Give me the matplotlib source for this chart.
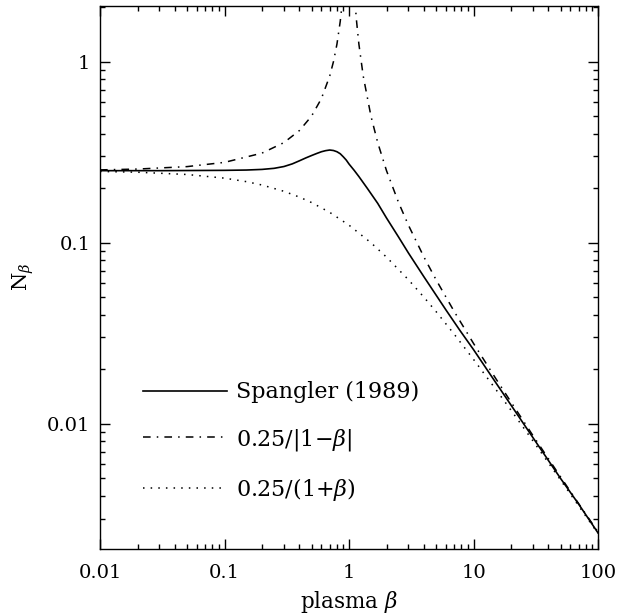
"""
N_beta vs plasma beta: Spangler (1989) curve and the two simple limits.
"""

import matplotlib
matplotlib.use("Agg")
import matplotlib.pyplot as plt
from matplotlib.ticker import LogLocator, NullFormatter, FixedLocator, FixedFormatter

plt.rcParams["font.family"] = ["DejaVu Serif"]
plt.rcParams["mathtext.fontset"] = "dejavuserif"

# Spangler (1989)
beta_spangler = [0.01, 0.03, 0.1, 0.15, 0.2, 0.25, 0.3, 0.35, 0.4, 0.45, 0.5,
                 0.55, 0.6, 0.65, 0.7, 0.75, 0.8, 0.85, 0.9, 0.95, 1.0, 1.1,
                 1.2, 1.4, 1.7, 2.0, 2.34, 2.5, 3.0, 4.0, 6.0, 7.8, 10, 15,
                 20, 30, 50, 70, 100]
n_spangler = [0.250, 0.250, 0.251, 0.252, 0.254, 0.2575, 0.2635, 0.2725,
              0.2835, 0.294, 0.303, 0.311, 0.318, 0.3225, 0.325, 0.323, 0.318,
              0.310, 0.298, 0.286, 0.272, 0.251, 0.232, 0.200, 0.165, 0.137,
              0.1155, 0.1075, 0.0878, 0.0648, 0.0426, 0.0327, 0.0257, 0.0170,
              0.0127, 0.0084, 0.0050, 0.0036, 0.0025]

# 0.25/|1-beta|
beta_abs = [0.01, 0.02, 0.05, 0.1, 0.2, 0.3, 0.4, 0.5, 0.6, 0.7, 0.75, 0.8,
            0.85, 0.88, 0.9, 0.95, 1.05, 1.1, 1.12, 1.15, 1.2, 1.3, 1.5, 1.7,
            2.0, 2.5, 3.0, 4.0, 5.0, 7.0, 10, 15, 20, 30, 50, 70, 100]
n_abs = [0.2525, 0.2551, 0.2632, 0.2778, 0.3125, 0.3571, 0.4167, 0.5, 0.625,
         0.8333, 1.0, 1.25, 1.667, 2.083, 2.5, 5.0, 5.0, 2.5, 2.083, 1.667,
         1.25, 0.8333, 0.5, 0.3571, 0.25, 0.1667, 0.125, 0.0833, 0.0625,
         0.0417, 0.0278, 0.0179, 0.0132, 0.00862, 0.0051, 0.00362, 0.00253]

# 0.25/(1+beta)
beta_plus = [0.01, 0.02, 0.05, 0.1, 0.15, 0.2, 0.3, 0.4, 0.5, 0.7, 1.0, 1.5,
             2.0, 3.0, 4.0, 5.0, 7.0, 10, 15, 20, 30, 50, 100]
n_plus = [0.2475, 0.2451, 0.2381, 0.2273, 0.2174, 0.2083, 0.1923, 0.1786,
          0.1667, 0.1471, 0.125, 0.1, 0.0833, 0.0625, 0.05, 0.0417, 0.03125,
          0.0227, 0.0156, 0.0119, 0.00806, 0.0049, 0.00248]

labels = ["Spangler (1989)", r"0.25/|1$-\beta$|", r"0.25/(1+$\beta$)"]

FS = 14

fig = plt.figure(figsize=(6.19, 6.14), dpi=100)
ax = fig.add_axes([0.1616, 0.106, 0.8045, 0.885])

ax.plot(beta_spangler, n_spangler, color="black", lw=1.2, label=labels[0])
ax.plot(beta_abs, n_abs, color="black", lw=1.1, dashes=(5, 4, 1, 4),
        label=labels[1])
ax.plot(beta_plus, n_plus, color="black", lw=1.1, dashes=(1, 4),
        label=labels[2])

ax.set_xscale("log")
ax.set_yscale("log")
ax.set_xlim(0.01, 100)
ax.set_ylim(0.00204, 2.04)

# tick marks inward on all sides
ax.tick_params(which="both", direction="in", top=True, right=True,
               labelsize=FS, width=1.0, color="black")
ax.tick_params(which="major", length=7.5)
ax.tick_params(which="minor", length=3.8)
ax.tick_params(axis="x", which="major", pad=11)
ax.tick_params(axis="y", which="major", pad=7)

ax.xaxis.set_major_locator(FixedLocator([0.01, 0.1, 1, 10, 100]))
ax.xaxis.set_major_formatter(FixedFormatter(["0.01", "0.1", "1", "10", "100"]))
ax.yaxis.set_major_locator(FixedLocator([0.01, 0.1, 1]))
ax.yaxis.set_major_formatter(FixedFormatter(["0.01", "0.1", "1"]))
for axis in (ax.xaxis, ax.yaxis):
    axis.set_minor_locator(LogLocator(base=10, subs=range(2, 10)))
    axis.set_minor_formatter(NullFormatter())

for sp in ax.spines.values():
    sp.set_linewidth(1.0)

ax.set_xlabel(r"plasma $\beta$", fontsize=15.5, labelpad=5)
ax.set_ylabel(r"N$_\beta$", fontsize=15, labelpad=8)

ax.legend(loc="lower left", bbox_to_anchor=(0.068, 0.068), frameon=False,
          fontsize=16, handlelength=3.8, handletextpad=0.4,
          labelspacing=1.05, borderaxespad=0)

fig.savefig("out.png", dpi=100)
